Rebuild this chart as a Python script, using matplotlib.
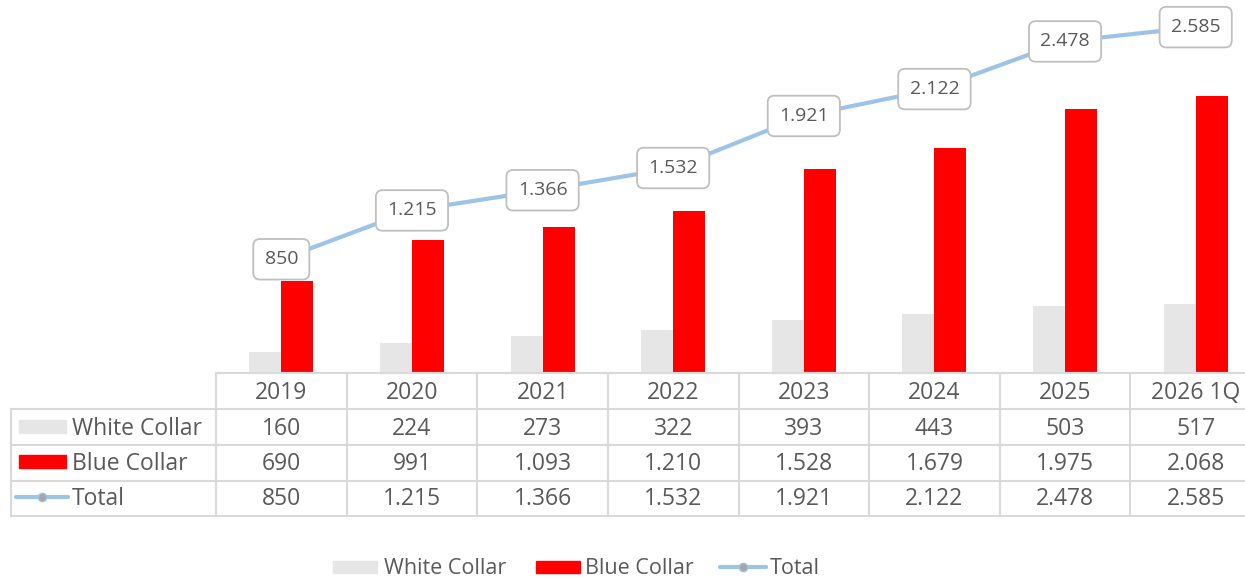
import matplotlib
matplotlib.use("Agg")
import matplotlib.pyplot as plt
from matplotlib.patches import Rectangle
from matplotlib.lines import Line2D
from matplotlib.transforms import blended_transform_factory

categories = ["2019", "2020", "2021", "2022", "2023", "2024", "2025", "2026 1Q"]
white_collar = [160, 224, 273, 322, 393, 443, 503, 517]
blue_collar = [690, 991, 1093, 1210, 1528, 1679, 1975, 2068]
total = [850, 1215, 1366, 1532, 1921, 2122, 2478, 2585]

W, H = 1245, 580
plt.rcParams['font.family'] = ['Open Sans', 'DejaVu Sans']
TXT = '#595959'
GRID = '#d9d9d9'
C_WHITE = '#e6e6e6'
C_RED = '#ff0000'
C_LINE = '#9dc3e6'
FW = 'normal'

def fmt(v):
    return f"{v:,}".replace(",", ".")

def fy(y):
    return 1 - y / H

fig = plt.figure(figsize=(W / 100, H / 100), dpi=100)
base = 373
ax = fig.add_axes([216 / W, fy(base), (W - 216) / W, base / H])
ax.set_xlim(-0.5, 7.5 - 16 / 130.6)
ax.set_ylim(0, base / 0.1338)
ax.axis('off')

x = list(range(len(categories)))
bw = 0.245
ax.bar([i - bw / 2 for i in x], white_collar, width=bw, color=C_WHITE, zorder=2)
ax.bar([i + bw / 2 for i in x], blue_collar, width=bw, color=C_RED, zorder=2)
ax.plot(x, total, color=C_LINE, lw=3, marker='o', ms=5, mfc='#a6a6a6', mec=C_LINE, zorder=3)
for i, v in zip(x, total):
    ax.annotate(fmt(v), (i, v), ha='center', va='center', fontsize=14, color=TXT, zorder=5, fontweight=FW,
                bbox=dict(boxstyle='round,pad=0.58,rounding_size=0.35', fc='white', ec='#bfbfbf', lw=1.3))

# data table
tr = blended_transform_factory(ax.transData, fig.transFigure)
xr = ax.get_xlim()[1]
lw = 1.5
rows_y = [373, 409, 445, 481, 516]
fig.add_artist(Line2D([-0.5, xr], [fy(373), fy(373)], transform=tr, color=GRID, lw=lw))
for yy in rows_y[1:]:
    fig.add_artist(Line2D([11 / W, 1.0], [fy(yy), fy(yy)], transform=fig.transFigure, color=GRID, lw=lw))
fig.add_artist(Line2D([11 / W, 11 / W], [fy(409), fy(516)], transform=fig.transFigure, color=GRID, lw=lw))
for b in [i - 0.5 for i in range(len(categories) + 1)]:
    fig.add_artist(Line2D([b, b], [fy(373), fy(516)], transform=tr, color=GRID, lw=lw, clip_on=False))

fs = 16.5
row_centers = [393, 429, 464, 499]
for i, c in enumerate(categories):
    fig.text(i, fy(row_centers[0]), c, transform=tr, ha='center', va='center', fontsize=fs, color=TXT, fontweight=FW)
    fig.text(i, fy(row_centers[1]), fmt(white_collar[i]), transform=tr, ha='center', va='center', fontsize=fs, color=TXT, fontweight=FW)
    fig.text(i, fy(row_centers[2]), fmt(blue_collar[i]), transform=tr, ha='center', va='center', fontsize=fs, color=TXT, fontweight=FW)
    fig.text(i, fy(row_centers[3]), fmt(total[i]), transform=tr, ha='center', va='center', fontsize=fs, color=TXT, fontweight=FW)

# row headers
fig.add_artist(Rectangle((19 / W, fy(433)), 47 / W, 13 / H, transform=fig.transFigure, color=C_WHITE))
fig.add_artist(Rectangle((19 / W, fy(468)), 47 / W, 13 / H, transform=fig.transFigure, color=C_RED))
fig.add_artist(Line2D([16 / W, 68 / W], [fy(497), fy(497)], transform=fig.transFigure, color=C_LINE, lw=3,
                      solid_capstyle='round'))
fig.add_artist(Line2D([42 / W], [fy(497)], transform=fig.transFigure, marker='o', ms=6, mfc='#a6a6a6', mec=C_LINE, mew=1))
fig.text(72 / W, fy(429), "White Collar", ha='left', va='center', fontsize=fs, color=TXT, fontweight=FW)
fig.text(72 / W, fy(464), "Blue Collar", ha='left', va='center', fontsize=fs, color=TXT, fontweight=FW)
fig.text(72 / W, fy(499), "Total", ha='left', va='center', fontsize=fs, color=TXT, fontweight=FW)

# bottom legend
ly = 567
lfs = 15.5
fig.add_artist(Rectangle((333 / W, fy(573)), 44 / W, 12 / H, transform=fig.transFigure, color=C_WHITE))
fig.text(384 / W, fy(ly + 2), "White Collar", ha='left', va='center', fontsize=lfs, color=TXT, fontweight=FW)
fig.add_artist(Rectangle((536 / W, fy(573)), 44 / W, 12 / H, transform=fig.transFigure, color=C_RED))
fig.text(585 / W, fy(ly + 2), "Blue Collar", ha='left', va='center', fontsize=lfs, color=TXT, fontweight=FW)
fig.add_artist(Line2D([720 / W, 766 / W], [fy(ly), fy(ly)], transform=fig.transFigure, color=C_LINE, lw=3,
                      solid_capstyle='round'))
fig.add_artist(Line2D([743 / W], [fy(ly)], transform=fig.transFigure, marker='o', ms=6, mfc='#a6a6a6', mec=C_LINE, mew=1))
fig.text(770 / W, fy(ly + 2), "Total", ha='left', va='center', fontsize=lfs, color=TXT, fontweight=FW)

fig.savefig("out.png", dpi=100, facecolor='white')
